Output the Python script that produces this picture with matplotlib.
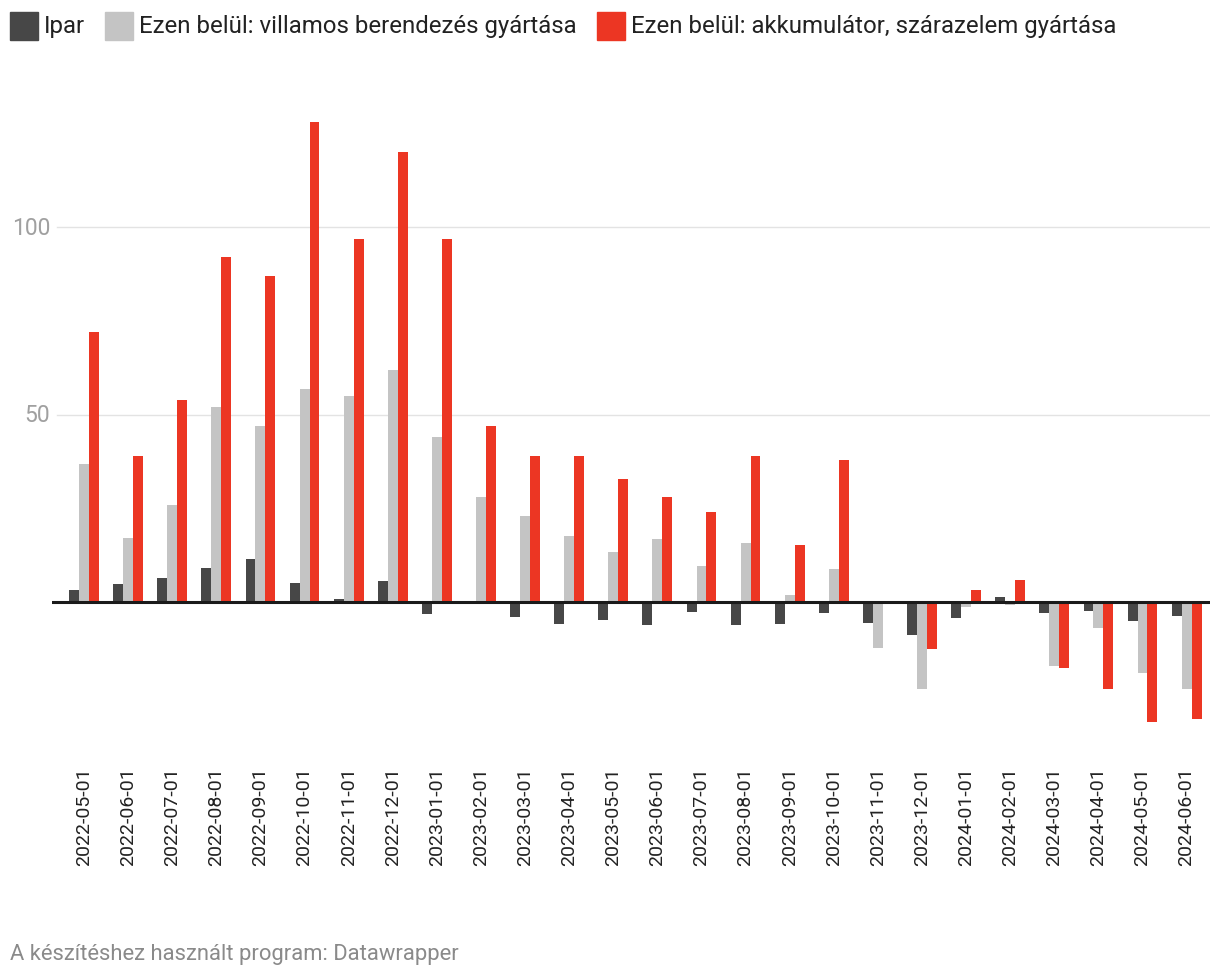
import matplotlib
matplotlib.use("Agg")
import matplotlib.pyplot as plt
from matplotlib.patches import Rectangle
import numpy as np

plt.rcParams["font.family"] = ["Roboto", "DejaVu Sans"]

dates = [
    "2022-05-01", "2022-06-01", "2022-07-01", "2022-08-01", "2022-09-01",
    "2022-10-01", "2022-11-01", "2022-12-01", "2023-01-01", "2023-02-01",
    "2023-03-01", "2023-04-01", "2023-05-01", "2023-06-01", "2023-07-01",
    "2023-08-01", "2023-09-01", "2023-10-01", "2023-11-01", "2023-12-01",
    "2024-01-01", "2024-02-01", "2024-03-01", "2024-04-01", "2024-05-01",
    "2024-06-01",
]
ipar = [3.2, 4.8, 6.4, 9.1, 11.5, 5.1, 0.8, 5.6, -3.2, 0.0, -4.0, -5.9, -4.8,
        -6.1, -2.7, -6.1, -5.9, -2.9, -5.6, -8.8, -4.3, 1.3, -2.9, -2.4, -5.1, -3.7]
villamos = [36.8, 17.1, 25.9, 52.0, 46.9, 56.8, 54.9, 61.9, 44.0, 28.0, 22.9, 17.6, 13.3,
            16.8, 9.6, 15.7, 1.9, 8.8, -12.3, -23.2, -1.3, -0.8, -17.1, -6.9, -18.9, -23.2]
akku = [72.0, 38.9, 53.9, 92.0, 86.9, 128.0, 96.8, 120.0, 96.8, 46.9, 38.9, 38.9, 32.8,
        28.0, 24.0, 38.9, 15.2, 37.9, 0.0, -12.5, 3.2, 5.9, -17.6, -23.2, -32.0, -31.2]

series_names = ["Ipar", "Ezen belül: villamos berendezés gyártása",
                "Ezen belül: akkumulátor, szárazelem gyártása"]
colors = ["#474747", "#c4c4c4", "#ec3623"]

W, H = 1220, 978
fig = plt.figure(figsize=(W / 100, H / 100), dpi=100)

# axes placed in pixel terms
ax_l, ax_r, ax_t, ax_b = 52, 1210, 112, 742
ax = fig.add_axes([ax_l / W, 1 - ax_b / H, (ax_r - ax_l) / W, (ax_b - ax_t) / H])

x = np.arange(len(dates))
bw = 0.225
for off, vals, c in zip([-bw, 0, bw], [ipar, villamos, akku], colors):
    ax.bar(x + off, vals, width=bw, color=c, linewidth=0, zorder=2)

ax.set_xlim(-0.726, 25.53)
ax.set_ylim(-37, 131)

for v in [50, 100]:
    ax.axhline(v, color="#e3e3e3", linewidth=1, zorder=1, xmin=0.004)
    ax.text(-0.77, v, str(v), ha="right", va="center", fontsize=16.5,
            color="#a0a0a0", transform=ax.transData, clip_on=False)
ax.axhline(0, color="#1a1a1a", linewidth=2.2, zorder=3)

ax.set_yticks([])
ax.set_xticks(x)
ax.set_xticklabels(dates, rotation=90, fontsize=14, color="#222222", va="top")
ax.tick_params(axis="x", length=0, pad=18.5)
for s in ax.spines.values():
    s.set_visible(False)

# legend drawn by hand across the top
leg_x = [10, 105, 597]
for lx, name, c in zip(leg_x, series_names, colors):
    fig.patches.append(Rectangle((lx / W, 1 - 41 / H), 28 / W, 28 / H,
                                 transform=fig.transFigure, color=c))
    fig.text((lx + 34) / W, 1 - 27 / H, name, fontsize=17.3, color="#222222",
             ha="left", va="center")

fig.text(10 / W, 1 - 955 / H, "A készítéshez használt program: Datawrapper",
         fontsize=15.8, color="#8a8a8a", ha="left", va="center")

fig.savefig("out.png", dpi=100)
